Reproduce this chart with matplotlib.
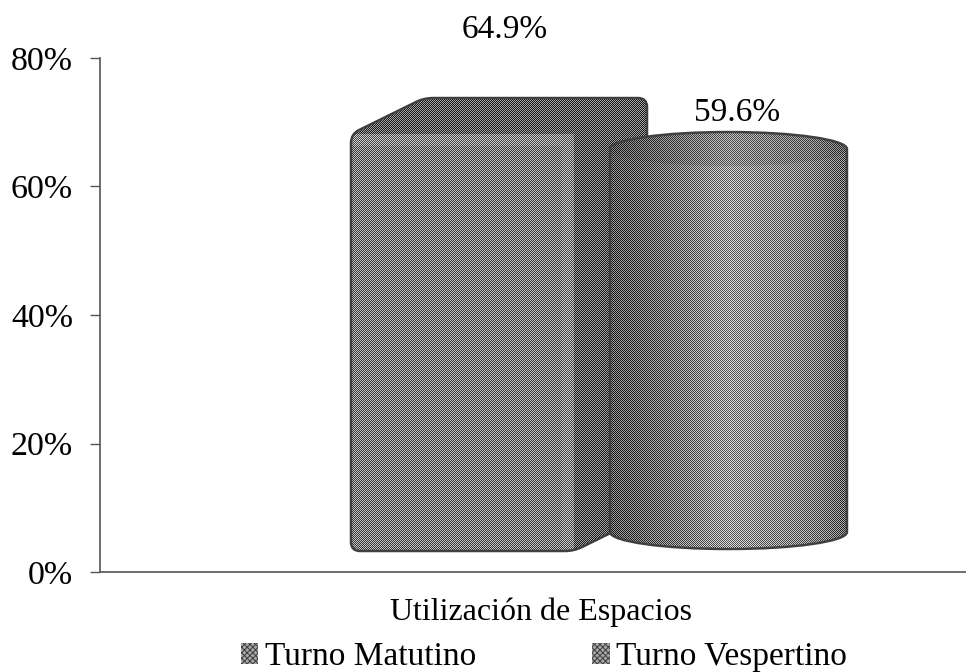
"""3D style bar chart: Utilizacion de Espacios por turno."""

import numpy as np
from matplotlib import pyplot as plt
from matplotlib.patches import Ellipse, Patch, PathPatch
from matplotlib.path import Path

categories = ["Utilización de Espacios"]
series_names = ["Turno Matutino", "Turno Vespertino"]
matutino = [64.9]
vespertino = [59.6]
y_ticks = [0, 20, 40, 60, 80]

# fake 3D geometry, in axis units
FLOOR = 3.27
DEPTH = 5.6
BOX_LEFT, BOX_RIGHT = -0.2194, 0.0381
BOX_SHIFT = 0.0843
CYL_LEFT, CYL_RIGHT = 0.0797, 0.3533
CYL_BASE = 6.23
CYL_HALF = 2.65
EDGE = "#404040"

plt.rcParams["font.family"] = ["Liberation Serif", "DejaVu Serif"]
plt.rcParams["font.size"] = 24
plt.rcParams["hatch.linewidth"] = 0.7

fig = plt.figure(figsize=(9.66, 6.72), dpi=100)
ax = fig.add_axes([100 / 966, 1 - 572 / 672, 866 / 966, 514 / 672])
ax.set_xlim(-441 / 866, 425 / 866)
ax.set_ylim(0, 80)
ax.set_autoscale_on(False)


def rounded(verts, radius=9):
    """Closed path through verts with the corners rounded, radius in pixels."""
    pts = ax.transData.transform(verts)
    out, codes = [], []
    n = len(pts)
    for i in range(n):
        p, prev, nxt = pts[i], pts[i - 1], pts[(i + 1) % n]
        a = p + (prev - p) / np.linalg.norm(prev - p) * radius
        b = p + (nxt - p) / np.linalg.norm(nxt - p) * radius
        out += [a, p, b]
        codes += [Path.LINETO if i else Path.MOVETO, Path.CURVE3, Path.CURVE3]
    out.append(out[0])
    codes.append(Path.CLOSEPOLY)
    return Path(ax.transData.inverted().transform(np.array(out)), codes)


def halftone(path, shade_fn, zorder):
    """Fill a path with a one pixel checker, like the scanned print."""
    patch = PathPatch(
        path,
        facecolor="none",
        edgecolor=EDGE,
        linewidth=1.8,
        joinstyle="round",
        zorder=zorder + 0.1,
    )
    ax.add_patch(patch)
    x0, y0 = path.vertices.min(axis=0)
    x1, y1 = path.vertices.max(axis=0)
    (px0, py0), (px1, py1) = ax.transData.transform([(x0, y0), (x1, y1)])
    w, h = int(round(px1 - px0)), int(round(py1 - py0))
    yy, xx = np.indices((h, w))
    img = shade_fn(xx, yy) + 0.27 * (2 * ((xx + yy) % 2) - 1)
    im = ax.imshow(
        img,
        extent=(x0, x1, y0, y1),
        cmap="gray",
        vmin=0,
        vmax=1,
        aspect="auto",
        interpolation="nearest",
        zorder=zorder,
    )
    im.set_clip_path(patch)
    return patch


px_per_x = 866
px_per_y = 514 / 80


# box: front face + side + roof, one silhouette
def box_shade(xx, yy):
    front_w = (BOX_RIGHT - BOX_LEFT) * px_per_x
    roof_h = DEPTH * px_per_y
    shade = np.full(xx.shape, 0.37)
    front = (xx < front_w) & (yy > roof_h)
    shade[front] = 0.49
    band = front & (yy < roof_h + 12)
    shade[band] = 0.54
    edge = front & (xx > front_w - 12)
    shade[edge] = 0.53
    return shade


box_top = FLOOR + matutino[0]
box_path = rounded(
    [
        (BOX_LEFT, FLOOR),
        (BOX_RIGHT, FLOOR),
        (BOX_RIGHT + BOX_SHIFT, FLOOR + DEPTH),
        (BOX_RIGHT + BOX_SHIFT, box_top + DEPTH),
        (BOX_LEFT + BOX_SHIFT, box_top + DEPTH),
        (BOX_LEFT, box_top),
    ]
)
box_patch = halftone(box_path, box_shade, 2)
box_bars = ax.bar(
    [(BOX_LEFT + BOX_RIGHT) / 2],
    matutino,
    width=BOX_RIGHT - BOX_LEFT,
    bottom=FLOOR,
    facecolor="#808080",
    edgecolor="none",
    zorder=1,
)
box_bars[0].set_clip_path(box_patch)

# cylinder body + both ellipses as a single outline
cyl_top = CYL_BASE + vespertino[0]
mid = (CYL_LEFT + CYL_RIGHT) / 2
hw = (CYL_RIGHT - CYL_LEFT) / 2
k = 0.5523
cyl_path = Path(
    [
        (CYL_LEFT, CYL_BASE),
        (CYL_LEFT, cyl_top),
        (CYL_LEFT, cyl_top + CYL_HALF * k),
        (mid - hw * k, cyl_top + CYL_HALF),
        (mid, cyl_top + CYL_HALF),
        (mid + hw * k, cyl_top + CYL_HALF),
        (CYL_RIGHT, cyl_top + CYL_HALF * k),
        (CYL_RIGHT, cyl_top),
        (CYL_RIGHT, CYL_BASE),
        (CYL_RIGHT, CYL_BASE - CYL_HALF * k),
        (mid + hw * k, CYL_BASE - CYL_HALF),
        (mid, CYL_BASE - CYL_HALF),
        (mid - hw * k, CYL_BASE - CYL_HALF),
        (CYL_LEFT, CYL_BASE - CYL_HALF * k),
        (CYL_LEFT, CYL_BASE),
    ],
    [Path.MOVETO, Path.LINETO]
    + [Path.CURVE4] * 6
    + [Path.LINETO]
    + [Path.CURVE4] * 6,
)


def cyl_shade(xx, yy):
    pos = xx / xx.max()
    return np.interp(pos, [0, 0.12, 0.5, 0.85, 1], [0.34, 0.38, 0.60, 0.50, 0.40])


cyl_patch = halftone(cyl_path, cyl_shade, 4)
cyl_bars = ax.bar(
    [mid],
    vespertino,
    width=CYL_RIGHT - CYL_LEFT,
    bottom=CYL_BASE,
    facecolor="#808080",
    edgecolor="none",
    zorder=3,
)

cyl_cap = Ellipse(
    (mid, cyl_top),
    CYL_RIGHT - CYL_LEFT,
    2 * CYL_HALF,
    facecolor="#333333",
    edgecolor="none",
    alpha=0.15,
    zorder=4.05,
)
ax.add_patch(cyl_cap)

# value labels sit above the shapes, partly outside the axes
ax.text(
    (BOX_LEFT + BOX_RIGHT + BOX_SHIFT) / 2 + 0.007,
    box_top + 16.2,
    f"{matutino[0]:.1f}%",
    ha="center",
    va="center",
    clip_on=False,
)
ax.text(
    mid + 0.0098,
    cyl_top + 5.7,
    f"{vespertino[0]:.1f}%",
    ha="center",
    va="center",
    clip_on=False,
)

ax.set_yticks(y_ticks)
ax.set_yticklabels([f"{v}%" for v in y_ticks])
ax.set_xticks([0])
ax.set_xticklabels(categories)
ax.tick_params(axis="x", length=0, pad=18.5, labelsize=23)
ax.tick_params(axis="y", length=7, width=1, color="#555555", pad=12.5, labelsize=24.5)
ax.spines["top"].set_visible(False)
ax.spines["right"].set_visible(False)
ax.spines["left"].set_color("#555555")
ax.spines["bottom"].set_color("#555555")
ax.spines["left"].set_linewidth(1.2)
ax.spines["bottom"].set_linewidth(1.2)

handles = [
    Patch(facecolor="#a8a8a8", edgecolor="#3c3c3c", hatch="xxxxxx", lw=0, label=series_names[0]),
    Patch(facecolor="#a8a8a8", edgecolor="#3c3c3c", hatch="xxxxxx", lw=0, label=series_names[1]),
]
fig.legend(
    handles=handles,
    loc="center",
    bbox_to_anchor=(544 / 966, 1 - 657 / 672),
    ncol=2,
    frameon=False,
    fontsize=24,
    handlelength=0.52,
    handleheight=0.6,
    handletextpad=0.2,
    columnspacing=3.48,
)

fig.savefig("out.png", dpi=100)
plt.close(fig)
